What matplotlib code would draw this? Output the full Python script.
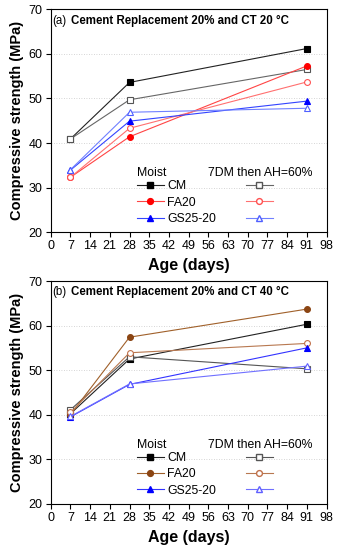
import matplotlib
matplotlib.use("Agg")
import matplotlib.pyplot as plt
from matplotlib.lines import Line2D

plt.rcParams['font.family'] = ['Liberation Sans', 'DejaVu Sans']

# ages (days)
age = [7, 28, 91]

# (a) CT 20 C
a_cm_moist = [40.9, 53.6, 61.2]
a_cm_dry = [40.9, 49.7, 56.5]
a_fa_moist = [32.3, 41.4, 57.3]
a_fa_dry = [32.3, 43.3, 53.7]
a_gs_moist = [33.9, 44.9, 49.4]
a_gs_dry = [34.0, 46.9, 47.8]

# (b) CT 40 C
b_cm_moist = [40.2, 52.5, 60.3]
b_cm_dry = [41.1, 53.0, 50.3]
b_fa_moist = [40.0, 57.4, 63.7]
b_fa_dry = [40.5, 53.9, 56.0]
b_gs_moist = [39.5, 46.8, 55.0]
b_gs_dry = [39.6, 46.9, 50.9]

xticks = list(range(0, 99, 7))
yticks = [20, 30, 40, 50, 60, 70]

fig = plt.figure(figsize=(3.38, 5.5), dpi=100)
ax_a = fig.add_axes([0.150, 0.578, 0.816, 0.405])
ax_b = fig.add_axes([0.150, 0.084, 0.816, 0.405])


def draw(ax, series, title_lbl, title_txt):
    for y, col, lcol, mk, filled in series:
        ax.plot(age, y, color=lcol, lw=0.8, marker=mk, ms=4.2,
                markerfacecolor=col if filled else 'white',
                markeredgecolor=col, markeredgewidth=0.8, zorder=3)
    ax.set_xlim(0, 98)
    ax.set_ylim(20, 70)
    ax.set_xticks(xticks)
    ax.set_yticks(yticks)
    ax.tick_params(direction='out', length=3.5, width=0.8, labelsize=9, pad=2.5)
    for v in [30, 40, 50, 60]:
        ax.axhline(v, color='#c8c8c8', lw=0.6, ls=(0, (1, 2)), zorder=1)
    for s in ax.spines.values():
        s.set_linewidth(0.8)
    ax.set_xlabel('Age (days)', fontsize=11.5, fontweight='bold', labelpad=4)
    ax.set_ylabel('Compressive strength (MPa)', fontsize=10.5, fontweight='bold', labelpad=3)
    ax.text(0.006, 0.949, title_lbl, transform=ax.transAxes, fontsize=8.3, va='center')
    ax.text(0.072, 0.949, title_txt, transform=ax.transAxes, fontsize=8.3,
            fontweight='bold', va='center')

    # legend
    ax.text(0.312, 0.264, 'Moist', transform=ax.transAxes, fontsize=8.8, va='center')
    ax.text(0.572, 0.264, '7DM then AH=60%', transform=ax.transAxes, fontsize=8.8, va='center')
    names = ['CM', 'FA20', 'GS25-20']
    h1, h2 = [], []
    for i in range(3):
        y, col, lcol, mk, _ = series[2 * i]
        h1.append(Line2D([], [], color=lcol, lw=0.8, marker=mk, ms=4.2,
                         markerfacecolor=col, markeredgecolor=col))
        y, col, lcol, mk, _ = series[2 * i + 1]
        h2.append(Line2D([], [], color=lcol, lw=0.8, marker=mk, ms=4.2,
                         markerfacecolor='white', markeredgecolor=col))
    leg1 = ax.legend(h1, names, loc='upper left', bbox_to_anchor=(0.312, 0.232),
                     frameon=False, fontsize=8.8, handlelength=2.2, handletextpad=0.3,
                     labelspacing=0.35, borderaxespad=0, borderpad=0)
    ax.add_artist(leg1)
    ax.legend(h2, ['', '', ''], loc='upper left', bbox_to_anchor=(0.708, 0.232),
              frameon=False, fontsize=8.8, handlelength=2.2, handletextpad=0.0,
              labelspacing=0.35, borderaxespad=0, borderpad=0)


series_a = [
    (a_cm_moist, 'black', '#222222', 's', True),
    (a_cm_dry, '#555555', '#666666', 's', False),
    (a_fa_moist, '#ff0000', '#ff4444', 'o', True),
    (a_fa_dry, '#ff5050', '#ff7070', 'o', False),
    (a_gs_moist, '#0000ff', '#3344ff', '^', True),
    (a_gs_dry, '#5060ff', '#7080ff', '^', False),
]
series_b = [
    (b_cm_moist, 'black', '#222222', 's', True),
    (b_cm_dry, '#555555', '#555555', 's', False),
    (b_fa_moist, '#8b4513', '#a0602a', 'o', True),
    (b_fa_dry, '#c0704a', '#b87850', 'o', False),
    (b_gs_moist, '#0000ff', '#3333ff', '^', True),
    (b_gs_dry, '#6060ff', '#7070ff', '^', False),
]

draw(ax_a, series_a, '(a)', 'Cement Replacement 20% and CT 20 °C')
draw(ax_b, series_b, '(b)', 'Cement Replacement 20% and CT 40 °C')

fig.savefig('out.png', dpi=100)
